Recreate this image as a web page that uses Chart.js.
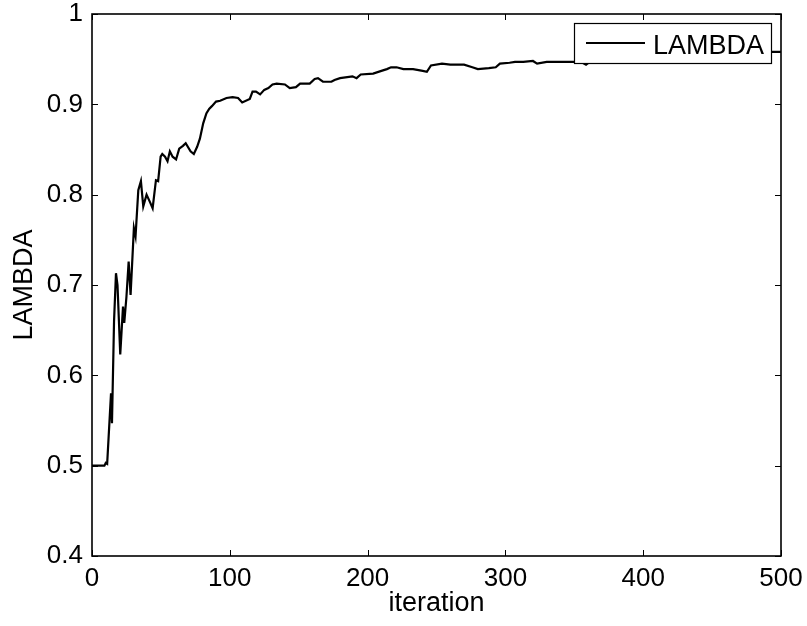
<!DOCTYPE html>
<html>
<head>
<meta charset="utf-8">
<script src="https://cdn.jsdelivr.net/npm/chart.js@4.4.1/dist/chart.umd.min.js"></script>
<style>
  html, body { margin: 0; padding: 0; background: #fff; }
  #wrap { width: 807px; height: 626px; }
</style>
</head>
<body>
<div id="wrap"><canvas id="lambdaChart" width="807" height="626"></canvas></div>
<script>
// values
const iterations = [
  0, 5, 9, 10, 11, 12, 13.8, 14.5, 16, 17.4, 18.5, 20.5, 22.5, 23.4, 25, 26.6, 28,
  30.4, 31.6, 33.6, 35.5, 37.2, 39.6, 42, 44, 46.4, 48, 49.8, 51, 53, 54.8, 56.5,
  58.5, 61, 63.3, 66, 68, 71.5, 73.9, 76.3, 78.3, 80.7, 83, 85, 87, 90, 93, 97.6,
  102, 106, 109, 114.5, 116.5, 119, 122, 125, 128, 131, 134, 140, 143.5, 148, 151,
  158, 161.6, 164, 167.6, 173.7, 176, 180, 189, 192, 195, 204, 210, 214, 217, 221,
  226, 233, 240, 243, 246, 254, 260, 265, 270, 276, 280, 288, 293, 296, 303, 307,
  313, 320, 323, 330, 337, 344, 350, 356, 358.5, 363, 370, 385, 400, 420, 440, 460,
  480, 492, 500
];
const lambdaValues = [
  0.500, 0.500, 0.500, 0.503, 0.502, 0.530, 0.580, 0.547, 0.660, 0.713, 0.700, 0.623,
  0.676, 0.658, 0.687, 0.726, 0.689, 0.763, 0.754, 0.805, 0.815, 0.787, 0.800, 0.792,
  0.785, 0.816, 0.815, 0.842, 0.845, 0.842, 0.837, 0.848, 0.842, 0.839, 0.851, 0.854,
  0.857, 0.848, 0.845, 0.853, 0.862, 0.879, 0.890, 0.895, 0.898, 0.903, 0.904, 0.907,
  0.908, 0.907, 0.902, 0.906, 0.914, 0.914, 0.911, 0.916, 0.918, 0.922, 0.923, 0.922,
  0.918, 0.919, 0.923, 0.923, 0.928, 0.929, 0.925, 0.925, 0.927, 0.929, 0.931, 0.929,
  0.933, 0.934, 0.937, 0.939, 0.941, 0.941, 0.939, 0.939, 0.937, 0.936, 0.943, 0.945,
  0.944, 0.944, 0.944, 0.941, 0.939, 0.940, 0.941, 0.945, 0.946, 0.947, 0.947, 0.948,
  0.945, 0.947, 0.947, 0.947, 0.947, 0.946, 0.944, 0.949, 0.951, 0.952, 0.953, 0.953,
  0.954, 0.955, 0.957, 0.958, 0.958
];
const xTicks = [0, 100, 200, 300, 400, 500];
const yTicks = [0.4, 0.5, 0.6, 0.7, 0.8, 0.9, 1];

const FONT = "'Liberation Sans', Arial, Helvetica, sans-serif";

// MATLAB-ish box with inward ticks + legend drawn on top of the line
const frameAndLegend = {
  id: 'frameAndLegend',
  afterDatasetsDraw(chart) {
    const { ctx, chartArea: a, scales } = chart;
    const tl = 6;
    ctx.save();
    ctx.strokeStyle = '#000';
    ctx.lineWidth = 1.6;
    ctx.strokeRect(a.left, a.top, a.right - a.left, a.bottom - a.top);
    ctx.lineWidth = 1;
    ctx.beginPath();
    xTicks.forEach(v => {
      const px = Math.round(scales.x.getPixelForValue(v)) + 0.5;
      ctx.moveTo(px, a.bottom); ctx.lineTo(px, a.bottom - tl);
      ctx.moveTo(px, a.top); ctx.lineTo(px, a.top + tl);
    });
    yTicks.forEach(v => {
      const py = Math.round(scales.y.getPixelForValue(v)) + 0.5;
      ctx.moveTo(a.left, py); ctx.lineTo(a.left + tl, py);
      ctx.moveTo(a.right, py); ctx.lineTo(a.right - tl, py);
    });
    ctx.stroke();

    // legend
    const bx = 574, by = 23, bw = 197, bh = 40;
    ctx.fillStyle = '#fff';
    ctx.fillRect(bx, by, bw, bh);
    ctx.lineWidth = 1.2;
    ctx.strokeRect(bx + 0.5, by + 0.5, bw, bh);
    ctx.lineWidth = 2;
    ctx.beginPath();
    ctx.moveTo(bx + 12, by + 20); ctx.lineTo(bx + 71, by + 20);
    ctx.stroke();
    ctx.fillStyle = '#000';
    ctx.font = '27px ' + FONT;
    ctx.textBaseline = 'alphabetic';
    ctx.fillText(chart.data.datasets[0].label, bx + 79, by + 31);
    ctx.restore();
  }
};

const points = iterations.map((it, i) => ({ x: it, y: lambdaValues[i] }));

new Chart(document.getElementById('lambdaChart'), {
  type: 'line',
  data: {
    datasets: [{
      label: 'LAMBDA',
      data: points,
      borderColor: '#000',
      borderWidth: 2.2,
      pointRadius: 0,
      tension: 0,
      fill: false
    }]
  },
  options: {
    responsive: false,
    animation: false,
    layout: { padding: { top: 14, right: 26, left: 0, bottom: 0 } },
    plugins: {
      legend: { display: false },
      tooltip: { enabled: false }
    },
    scales: {
      x: {
        type: 'linear',
        min: 0, max: 500,
        afterFit: s => { s.height = 70; s.paddingLeft = 0; s.paddingRight = 0; },
        afterBuildTicks: s => { s.ticks = xTicks.map(v => ({ value: v })); },
        grid: { display: false, drawTicks: false },
        border: { display: false },
        ticks: { color: '#000', font: { family: FONT, size: 26 }, padding: 7, maxRotation: 0 },
        title: { display: true, text: 'iteration', color: '#000', font: { family: FONT, size: 27 }, padding: { top: 0, bottom: 6 } }
      },
      y: {
        min: 0.4, max: 1,
        afterFit: s => { s.width = 92; s.paddingTop = 0; s.paddingBottom = 0; },
        afterBuildTicks: s => { s.ticks = yTicks.map(v => ({ value: v })); },
        grid: { display: false, drawTicks: false },
        border: { display: false },
        ticks: { color: '#000', font: { family: FONT, size: 26 }, padding: 9, callback: v => String(+v.toFixed(1)) },
        title: { display: true, text: 'LAMBDA', color: '#000', font: { family: FONT, size: 27 }, padding: { top: 8, bottom: 8 } }
      }
    }
  },
  plugins: [frameAndLegend]
});
</script>
</body>
</html>
